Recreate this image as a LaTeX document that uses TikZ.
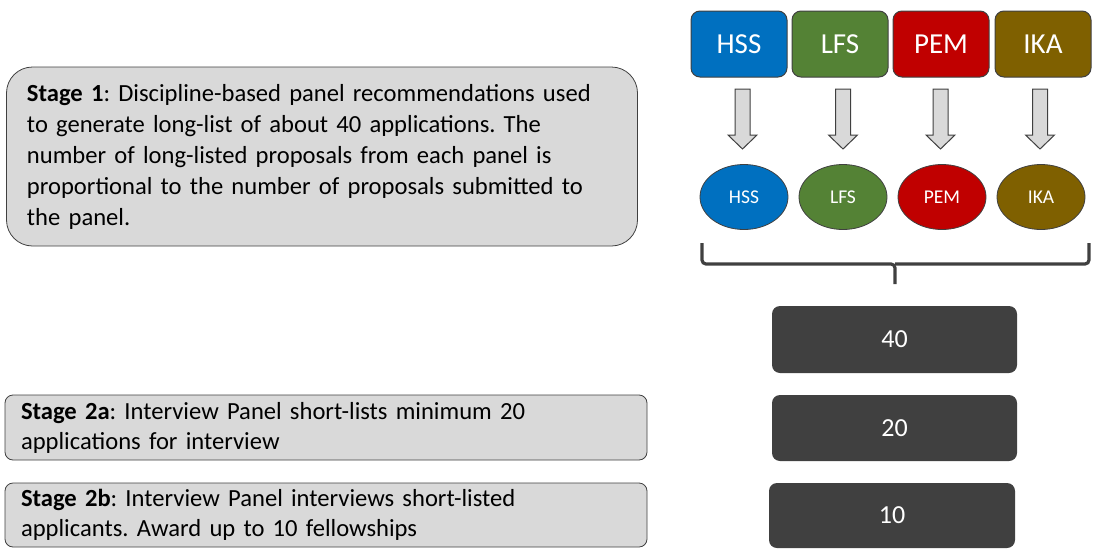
\documentclass[tikz,border=0pt]{standalone}
\usepackage{fontspec}
\setmainfont{Carlito}
\usetikzlibrary{shapes.geometric}
\definecolor{hssc}{HTML}{0070C0}
\definecolor{lfsc}{HTML}{548235}
\definecolor{pemc}{HTML}{C00000}
\definecolor{ikac}{HTML}{7F6000}
\definecolor{edgec}{HTML}{404040}
\definecolor{boxgray}{HTML}{D9D9D9}
\definecolor{darkbox}{HTML}{404040}
\begin{document}
\frenchspacing
\begin{tikzpicture}[x=1pt,y=-1pt,
  panelbox/.style={draw=edgec,line width=1pt,rounded corners=9pt,minimum width=96pt,minimum height=66pt,
    text=white,font=\fontsize{29}{31}\selectfont,inner sep=0pt},
  panelell/.style={ellipse,draw=edgec,line width=0.8pt,minimum width=88pt,minimum height=65pt,
    text=white,font=\fontsize{19.5}{21}\selectfont,inner sep=0pt},
  blockarr/.style={draw=edgec,fill=boxgray,line width=1pt},
  numbox/.style={fill=darkbox,rounded corners=8pt,text=white,font=\fontsize{26}{28}\selectfont,inner sep=0pt},
  stagebox/.style={draw=edgec,fill=boxgray,line width=0.8pt,align=left,inner sep=0pt},
  bracestyle/.style={draw=edgec,line width=3.2pt,rounded corners=4pt}
]
\useasboundingbox (0,0) rectangle (1095,549);

% top panel boxes
\node[panelbox,fill=hssc] (t1) at (739,44) {HSS};
\node[panelbox,fill=lfsc] (t2) at (840,44) {LFS};
\node[panelbox,fill=pemc] (t3) at (941,44) {PEM};
\node[panelbox,fill=ikac] (t4) at (1043,44) {IKA};

% block arrows
\foreach \cx in {742.5,843,940.5,1040}{
  \draw[blockarr] (\cx-7.5,89) -- (\cx+7.5,89) -- (\cx+7.5,135) -- (\cx+14.5,135)
    -- (\cx,149) -- (\cx-14.5,135) -- (\cx-7.5,135) -- cycle;
}

% ellipses
\node[panelell,fill=hssc] (e1) at (744,197) {HSS};
\node[panelell,fill=lfsc] (e2) at (843,197) {LFS};
\node[panelell,fill=pemc] (e3) at (942,197) {PEM};
\node[panelell,fill=ikac] (e4) at (1041,197) {IKA};

% brace
\coordinate (bl) at (702,243);
\coordinate (br) at (1089,243);
\coordinate (bt) at (895,284);
\draw[bracestyle] (bl) -- (702,264) -- (895,264) -- (bt);
\draw[bracestyle] (br) -- (1089,264) -- (895,264);

% number boxes
\node[numbox,minimum width=245pt,minimum height=67pt] (n40) at (894.5,339.5) {40};
\node[numbox,minimum width=245pt,minimum height=66pt] (n20) at (894.5,428) {20};
\node[numbox,minimum width=246pt,minimum height=65pt] (n10) at (892,515.5) {10};

% stage boxes
\node[stagebox,rounded corners=26pt,minimum width=631pt,minimum height=179pt,text width=590pt,
  font=\fontsize{24.6}{31}\selectfont] (s1) at (322,156.5)
  {\textbf{Stage 1}: Discipline-based panel recommendations used\\
   to generate long-list of about 40 applications. The\\
   number of long-listed proposals from each panel is\\
   proportional to the number of proposals submitted to\\
   the panel.};
\node[stagebox,rounded corners=8pt,minimum width=642pt,minimum height=65pt,text width=610pt,
  font=\fontsize{24.6}{30}\selectfont] (s2a) at (326,427.5)
  {\textbf{Stage 2a}: Interview Panel short-lists minimum 20\\
   applications for interview};
\node[stagebox,rounded corners=8pt,minimum width=642pt,minimum height=64pt,text width=610pt,
  font=\fontsize{24.6}{30}\selectfont] (s2b) at (326,515)
  {\textbf{Stage 2b}: Interview Panel interviews short-listed\\
   applicants. Award up to 10 fellowships};
\end{tikzpicture}
\end{document}
